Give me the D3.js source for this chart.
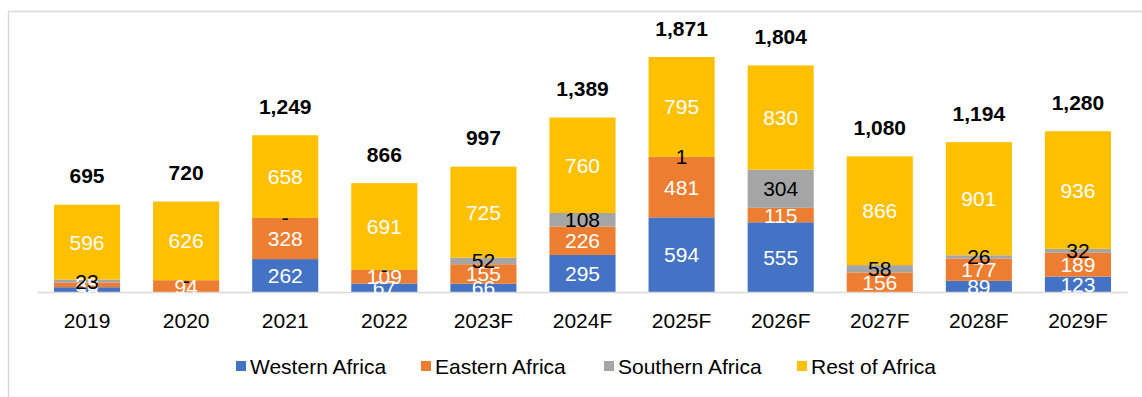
<!DOCTYPE html>
<html>
<head>
<meta charset="utf-8">
<script src="https://cdn.jsdelivr.net/npm/d3@7"></script>
<style>
  html, body { margin: 0; padding: 0; background: #fff; }
  svg { display: block; font-family: "Liberation Sans", Arial, sans-serif; }
</style>
</head>
<body>
<svg id="chart" width="1142" height="397"></svg>
<script>
// Years on the x axis
const years = ["2019", "2020", "2021", "2022", "2023F", "2024F", "2025F", "2026F", "2027F", "2028F", "2029F"];

// Regional values per year (bottom to top of each stack)
const westernAfrica  = [38, 0, 262, 67, 66, 295, 594, 555, 0, 89, 123];
const easternAfrica  = [38, 94, 328, 109, 155, 226, 481, 115, 156, 177, 189];
const southernAfrica = [23, 0, 0, 0, 52, 108, 1, 304, 58, 26, 32];
const restOfAfrica   = [596, 626, 658, 691, 725, 760, 795, 830, 866, 901, 936];

// Totals printed above each stack
const totals = [695, 720, 1249, 866, 997, 1389, 1871, 1804, 1080, 1194, 1280];

const seriesNames = ["Western Africa", "Eastern Africa", "Southern Africa", "Rest of Africa"];
const seriesColors = ["#4472C4", "#ED7D31", "#A5A5A5", "#FFC000"];
const labelColors = ["#ffffff", "#ffffff", "#000000", "#ffffff"];

const seriesValues = [westernAfrica, easternAfrica, southernAfrica, restOfAfrica];
const keys = ["w", "e", "s", "r"];
const rows = years.map((yr, i) => {
  const row = { year: yr, total: totals[i] };
  keys.forEach((k, j) => row[k] = seriesValues[j][i]);
  return row;
});

const svg = d3.select("#chart");

// Outer frame
svg.append("rect")
  .attr("x", 8.5).attr("y", 11.5)
  .attr("width", 1160).attr("height", 420)
  .attr("fill", "none").attr("stroke", "#d9d9d9").attr("stroke-width", 1.5);

const x = d3.scaleBand().domain(years).range([37.5, 1127.5]).paddingInner(0.333).paddingOuter(0.1665);
const y = d3.scaleLinear().domain([0, 2000]).range([292, 40.8]);

const stack = d3.stack().keys(keys);
const layers = stack(rows);

const fmt = d3.format(",");

const g = svg.append("g");

layers.forEach((layer, j) => {
  g.append("g").selectAll("rect")
    .data(layer)
    .join("rect")
    .attr("x", d => x(d.data.year))
    .attr("width", x.bandwidth())
    .attr("y", d => y(d[1]))
    .attr("height", d => y(d[0]) - y(d[1]))
    .attr("fill", seriesColors[j]);
});

// Axis line
g.append("line")
  .attr("x1", 37.5).attr("x2", 1127.5)
  .attr("y1", 292.5).attr("y2", 292.5)
  .attr("stroke", "#d9d9d9").attr("stroke-width", 1.5);

// Segment value labels
layers.forEach((layer, j) => {
  g.append("g").selectAll("text")
    .data(layer)
    .join("text")
    .attr("x", d => x(d.data.year) + x.bandwidth() / 2)
    .attr("y", d => (y(d[0]) + y(d[1])) / 2)
    .attr("text-anchor", "middle")
    .attr("dominant-baseline", "central")
    .attr("font-size", 21)
    .attr("fill", labelColors[j])
    .text(d => {
      const v = d.data[keys[j]];
      return v === 0 ? "-" : fmt(v);
    });
});

// Totals above stacks
g.append("g").selectAll("text")
  .data(rows)
  .join("text")
  .attr("x", d => x(d.year) + x.bandwidth() / 2)
  .attr("y", d => y(d.w + d.e + d.s + d.r) - 29)
  .attr("text-anchor", "middle")
  .attr("dominant-baseline", "central")
  .attr("font-size", 21)
  .attr("font-weight", "bold")
  .attr("fill", "#000")
  .text(d => fmt(d.total));

// Category axis labels
const xAxis = d3.axisBottom(x).tickSize(0).tickPadding(0);
const axisG = svg.append("g").attr("transform", "translate(0,292)").call(xAxis);
axisG.select(".domain").remove();
axisG.selectAll("text")
  .attr("font-size", 21)
  .attr("font-family", "Liberation Sans, Arial, sans-serif")
  .attr("fill", "#000")
  .attr("dy", null)
  .attr("y", 28)
  .attr("dominant-baseline", "central");

// Legend
const legendX = [236, 421, 604, 797];
const legend = svg.append("g");
seriesNames.forEach((name, j) => {
  legend.append("rect")
    .attr("x", legendX[j]).attr("y", 361)
    .attr("width", 10).attr("height", 10)
    .attr("fill", seriesColors[j]);
  legend.append("text")
    .attr("x", legendX[j] + 14).attr("y", 366)
    .attr("dominant-baseline", "central")
    .attr("font-size", 21)
    .attr("fill", "#000")
    .text(name);
});
</script>
</body>
</html>
